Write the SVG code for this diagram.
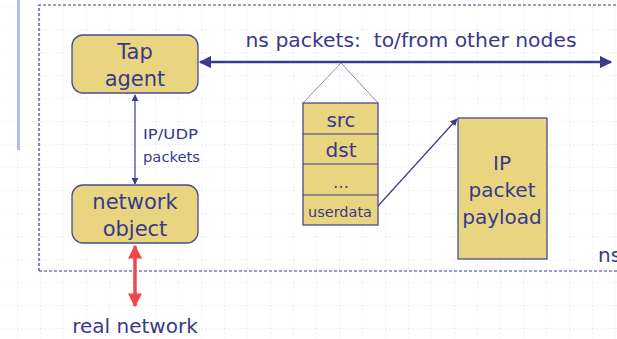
<svg xmlns="http://www.w3.org/2000/svg" width="617" height="339" viewBox="0 0 617 339">
<style>
.box{fill:#E9D580;stroke:#4B4B8C;stroke-width:1.3}
.t{font-family:"DejaVu Sans",Verdana,sans-serif;fill:#39398A;text-anchor:middle}
.s{text-anchor:start}
.ln{stroke:#3B3B8A;fill:none}
</style>
<defs>
<pattern id="grid" x="17" y="6" width="23" height="23" patternUnits="userSpaceOnUse">
<path d="M0 0V23M0 0H23" stroke="#DDE3F6" stroke-width="1" stroke-dasharray="2,2" fill="none"/>
</pattern>
<marker id="ah" viewBox="0 0 10 10" refX="9" refY="5" markerWidth="5" markerHeight="5" orient="auto-start-reverse">
<path d="M0 0L10 5L0 10z" fill="#3B3B8A"/>
</marker>
<marker id="ahs" viewBox="0 0 10 10" refX="9" refY="5" markerWidth="6" markerHeight="6" orient="auto-start-reverse">
<path d="M0 0L10 5L0 10z" fill="#3B3B8A"/>
</marker>
<marker id="ahr" viewBox="0 0 10 10" refX="9" refY="5" markerWidth="4" markerHeight="4" orient="auto-start-reverse">
<path d="M0 0L10 5L0 10z" fill="#F04848"/>
</marker>
</defs>
<rect width="617" height="339" fill="#FFFFFF"/>
<rect width="617" height="339" fill="url(#grid)"/>
<rect x="17" y="0" width="3" height="150" fill="#B3BCF2"/>
<path d="M39 271V5H617M39 271H617" stroke="#3B3B8A" stroke-width="1.2" stroke-dasharray="3,2" fill="none"/>

<g id="connectors">
<line class="ln" x1="200" y1="62" x2="611" y2="62" stroke-width="2.5" marker-start="url(#ah)" marker-end="url(#ah)"/>
<line class="ln" x1="135" y1="95" x2="135" y2="184" stroke-width="1.2" marker-start="url(#ahs)" marker-end="url(#ahs)"/>
<line x1="135" y1="246" x2="135" y2="306" stroke="#F04848" stroke-width="3.5" marker-start="url(#ahr)" marker-end="url(#ahr)"/>
<path d="M303 103L341 63L378 103" stroke="#8A8AB8" stroke-width="1" fill="none"/>
<line class="ln" x1="378" y1="206" x2="457" y2="119" stroke-width="1.2" marker-end="url(#ahs)"/>
</g>

<g id="tap-agent">
<rect class="box" x="72" y="35" width="126" height="58" rx="11"/>
<text class="t" x="135" y="59" font-size="21">Tap</text>
<text class="t" x="135" y="86" font-size="21">agent</text>
</g>

<g id="network-object">
<rect class="box" x="72" y="185" width="126" height="58" rx="11"/>
<text class="t" x="135" y="209" font-size="21">network</text>
<text class="t" x="135" y="236" font-size="21">object</text>
</g>

<g id="ip-udp-label">
<text class="t s" x="143" y="139" font-size="14.5" textLength="55" lengthAdjust="spacingAndGlyphs">IP/UDP</text>
<text class="t s" x="143" y="162" font-size="14.5" textLength="57" lengthAdjust="spacingAndGlyphs">packets</text>
</g>

<g id="ns-label">
<text class="t" x="411" y="47" font-size="20" xml:space="preserve" style="white-space:pre" textLength="331" lengthAdjust="spacingAndGlyphs">ns packets:  to/from other nodes</text>
</g>

<g id="packet">
<rect class="box" x="303" y="103" width="75" height="122"/>
<line class="ln" x1="303" y1="134" x2="378" y2="134" stroke-width="1.2"/>
<line class="ln" x1="303" y1="164" x2="378" y2="164" stroke-width="1.2"/>
<line class="ln" x1="303" y1="195" x2="378" y2="195" stroke-width="1.2"/>
<text class="t" x="341" y="127" font-size="20">src</text>
<text class="t" x="341" y="157" font-size="20">dst</text>
<text class="t" x="341" y="188" font-size="16">…</text>
<text class="t" x="340" y="217" font-size="14" textLength="64" lengthAdjust="spacingAndGlyphs">userdata</text>
</g>

<g id="ip-payload">
<rect class="box" x="458" y="118" width="89" height="141"/>
<text class="t" x="502" y="170" font-size="20">IP</text>
<text class="t" x="502" y="197" font-size="20">packet</text>
<text class="t" x="502" y="224" font-size="20">payload</text>
</g>

<g id="ns-corner">
<text class="t s" x="598" y="262" font-size="20">ns</text>
</g>

<g id="real-network">
<text class="t" x="135" y="333" font-size="20">real network</text>
</g>
</svg>
